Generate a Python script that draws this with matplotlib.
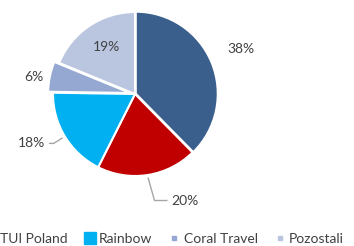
import numpy as np
import matplotlib
matplotlib.use("Agg")
import matplotlib.pyplot as plt
from matplotlib.lines import Line2D

# market share data
labels = ["Itaka", "TUI Poland", "Rainbow", "Coral Travel", "Pozostali"]
shares = [38, 20, 18, 6, 19]
colors = ["#3B5F8D", "#C00000", "#00B0F0", "#94A8D2", "#BAC6E0"]

plt.rcParams["font.family"] = ["Lato", "DejaVu Sans"]
txt_color = "#404040"
fs = 10

W, H = 354, 246
fig = plt.figure(figsize=(W / 100, H / 100), dpi=100)
ax = fig.add_axes([0, 0, 1, 1])

# pie centre (135, 94) px from top-left, radius 82 px
cx, cy, R = 135, 94, 82

explode = [0.01, 0, 0, 0.06, 0]
wedges, _ = ax.pie(shares, colors=colors, startangle=90, counterclock=False,
                   explode=explode, radius=1,
                   wedgeprops=dict(edgecolor="white", linewidth=1.5))
ax.set_xlim(-cx / R, (W - cx) / R)
ax.set_ylim((cy - H) / R, cy / R)
ax.axis("off")

# label placement: radius, angle shift (deg), leader line?
lab_r = [1.40, 1.47, 1.47, 1.25, 0.67]
lab_shift = [1, 19, -7, 2, -2]
leader = [False, True, True, False, False]

for w, s, r, d, ld in zip(wedges, shares, lab_r, lab_shift, leader):
    mid = np.deg2rad((w.theta1 + w.theta2) / 2)
    ang = mid + np.deg2rad(d)
    tx, ty = r * np.cos(ang), r * np.sin(ang)
    if ld:
        x0, y0 = 1.04 * np.cos(mid), 1.04 * np.sin(mid)
        if np.cos(ang) > 0:
            xe = tx - 0.3
            ax.plot([x0, xe - 0.15, xe], [y0, ty, ty], color="#A6A6A6", lw=1)
            ax.text(xe + 0.05, ty, f"{s}%", ha="left", va="center",
                    fontsize=fs, color=txt_color)
        else:
            xe = tx + 0.3
            ax.plot([x0, xe + 0.05, xe], [y0, ty, ty], color="#A6A6A6", lw=1)
            ax.text(xe - 0.05, ty, f"{s}%", ha="right", va="center",
                    fontsize=fs, color=txt_color)
    else:
        ax.text(tx, ty, f"{s}%", ha="center", va="center", fontsize=fs,
                color=txt_color)

msizes = [8, 8, 8, 3.5, 3.5]
handles = [Line2D([], [], marker="s", ls="", color=c, markersize=m)
           for c, m in zip(colors, msizes)]
leg_y = 1 - 239 / H
leg = fig.legend(handles, labels, loc="center left", ncol=5, frameon=False,
                 bbox_to_anchor=(0, leg_y),
                 fontsize=fs, handlelength=0.8, handletextpad=0.25,
                 columnspacing=1.2, labelcolor=txt_color)

# shift legend so that "TUI Poland" starts at the left edge
shift = 0
for _ in range(3):
    fig.canvas.draw()
    bb = leg.get_texts()[1].get_window_extent()
    shift -= bb.x0 / W
    leg.set_bbox_to_anchor((shift, leg_y), transform=fig.transFigure)

fig.savefig("out.png", dpi=100)
